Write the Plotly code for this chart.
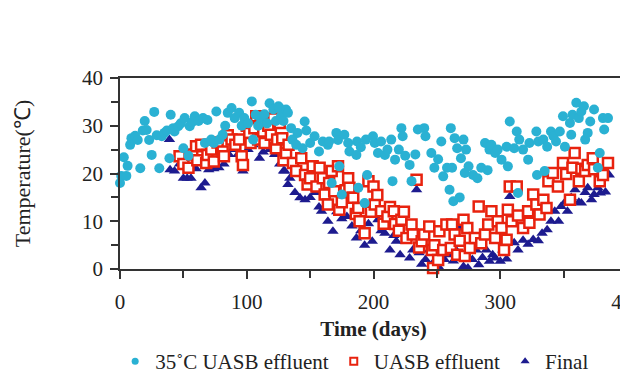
import plotly.graph_objects as go

# 35°C UASB effluent
cyan_day = [0,1,3,5,6,8,9,12,14,16,18,19.5,21,23,25,27,29,31,33,35,37,39,40,42,43,46,48,50,51,54,55,57,59,62,65.5,67,69,72,74,76,78.5,81,83,85,88,90.5,94,96,98,101,104,105,107,109,111,114,116,118,121,123,125,126,127,129,131,132.5,135,136,139,140,144,145.7,147,150,153.5,157,160,164,165,167,170.7,172,173,175,177,180,181,186.5,187,188,190,193,194,195,199.6,201,203.5,206,209,211,214,215,217,220,222,223,225,228.5,230,233,235,240,241,245.6,248,251,253.5,255,258,260,261,262,263,264,266,268,269,271,272,273,275,278.5,282,285,288,290,291.5,293,296,298,301,305,306,307.5,311,313,314,315,318,322,323,328.5,329,330,334,335,337,340,342,344,347,349.5,351,355,356,357,360,362,364,366,367,369,371,374,377,378.5,381,382,385]
cyan_temp = [18,19.5,23.4,19.5,21.6,26,27.4,27.9,27,21.1,29,31,29.1,27,23.9,32.9,28,21.1,27.8,28.5,29,23.2,32.3,29.5,28.8,29.9,30.5,25.3,31.6,23.7,29.9,30.8,32,31,31.6,26.4,31.2,27.1,26.4,33,27.1,28.1,30,32.7,33.7,31.6,32.7,30,31.6,30.5,35.1,27.1,32.3,30,31.6,32.4,30.5,34.7,33.4,31,34.1,33.7,32,31,33.4,32.7,29.5,27.1,26,28.5,25.3,30.9,29,26.4,27.8,24.6,26.7,26,26.7,18,28.5,27,21.5,15.6,28.1,26.4,24.6,23.9,26.7,17,25.5,13.8,27.1,19.7,27.8,26.4,24.3,26.7,23.9,25,27.1,18.4,22.9,25,29.5,27.8,23.7,21.8,18.4,24,29.2,29.5,27.8,24.3,21.2,23,26.7,19.4,21.2,16.6,29.5,21.2,14.2,27.4,25.3,15,23.2,27.1,20.1,25,21.5,19.7,19,21.2,26.4,20.7,25,26,24.3,25,22.9,25.6,21.5,30.9,25.3,28.8,15.9,27.1,25,22.9,26.4,28.8,19.7,26.7,27.1,20.5,25.6,28.8,27.8,26.7,28.8,32,25.6,30.6,28.1,32.3,34.8,31.6,33,34.1,27.1,28.5,30.9,33.4,21.2,24.3,31.6,29.2,31.6]

# UASB effluent
red_day = [47,50,54,57,60,61,64,68,69,72,74,77,81,82,85,88,91,94,96,97,100,102,103,106,107.5,109,111,113,114,117,119,121,123,124,126,128,129,131,133,136.5,139,143,146,148,150,152,155,157.5,160,161.5,164,165,167,169,172,173,175,178,180,181,184,186,188,189,193,196,198,200,201,203,206,208,211,213,216,217,220,222,224,226,230,231,234,236,238,240,244,246,247,248,251,252,255,257.5,261,262,264,266,268,271,272,274,276,280,283,285,288,290.5,293,296,298,301,303,305,306,307.5,309,313,314,318,322,323,326,328.5,331,334,336.5,338,341.5,345.5,349.5,352,355,357,358.7,362,364,367,369,373,374,378.5,381,385]
red_temp = [23.6,22,21.2,24,25.7,22.8,26,22.2,23.9,25,22.5,26.5,24.6,23.6,28,27.1,26,27.1,23.6,21.8,30,28.5,26.4,29.5,32,27.1,31,28.8,26.4,30,28.1,31.5,25.3,27.1,30.6,27.4,22.8,24.3,26,22.2,20.5,23.2,19.7,17.7,19,21.5,17.3,21.2,19,15.6,13.5,18,20.5,16.3,21.5,12.4,14,16.5,19,17,14.9,11.5,12.8,10,7.5,18.4,12,17.3,13.5,15.5,12.1,9.5,11,13,12.1,9.4,8,10.3,12,6.5,9.3,7.2,18.7,4.5,5.8,7.2,8.9,4,0.2,5,1.9,7.9,4,9.3,4.4,9.3,7.2,3,5.9,10.3,2.7,8.6,4.4,6.5,13.1,5.4,7.2,9.3,12.1,6.5,10,8.6,4,6.1,12.4,17.3,10,17.3,11.2,8.6,12.1,9.7,15.6,13.5,11.4,14.5,12.8,18.4,20.1,17.3,22.2,19.9,14.5,21.2,24.3,18.4,21,20.5,21.8,23.2,20.9,18.4,19.7,22.2]

# Final
navy_day = [39,39.5,43,47,50,53,56,60,64,67,70,74,78,82,86,89,93,97,101,105,110,113,118,122,126,129,130,132.5,134,138,142,146,150,154,157,159,162,164,168,171,175,179,183,186.5,190,193,196,199,203.5,206,209,213,216,218,221,225,228.5,231,234,236,238,241,244,248,252,256,260,263,265,268,268.5,271,274.5,278,281,283,286,289,291.5,294,296,300,302,305,307.5,311,314,318,322,326,330,333,337,340,343,346,348,351,353,356,359,362,364,367,369,372,374,377,379,383,386]
navy_temp = [27.1,20.8,20.5,22,19,19,19,21,17,18,20.8,21,21.2,22,24,25,24,20.5,25,26,23.2,24.5,25,24,22,20.5,20.5,17.7,19,16,14.9,14.5,15,16,13,12.1,13,10,7.9,12,10.5,11,9,6.5,8,5,9.5,5.8,10.3,8,7.5,4,7,5.8,3,5.8,2.3,4,16.6,3.4,1,2,4,1.6,0.2,2,3,1.7,4,2.4,8.6,0.5,0.2,2,4,0.9,2.4,4,1.6,3,2.3,1.6,4,2.1,15.2,5.5,4,6,5.2,6.2,5.9,7.5,8.2,10,12.1,10,13.1,14,12.1,15,16.6,14,13.8,16,17,14.5,15.6,17,15.9,16.1,19.7]

x_ticks = [0, 100, 200, 300, 400]
y_ticks = [0, 10, 20, 30, 40]

CYAN = "#2AB1D3"
RED = "#E8220E"
NAVY = "#1D1B8F"
FONT = "Liberation Serif"

fig = go.Figure()
fig.add_trace(go.Scatter(x=navy_day, y=navy_temp, mode="markers", showlegend=False, cliponaxis=False,
                         marker=dict(symbol="triangle-up", size=10, color=NAVY)))
fig.add_trace(go.Scatter(x=red_day, y=red_temp, mode="markers", showlegend=False, cliponaxis=False,
                         marker=dict(symbol="square", size=10, color="white", line=dict(color=RED, width=2.5))))
fig.add_trace(go.Scatter(x=cyan_day, y=cyan_temp, mode="markers", showlegend=False, cliponaxis=False,
                         marker=dict(symbol="circle", size=10, color=CYAN)))

# legend entries
fig.add_trace(go.Scatter(x=[None], y=[None], mode="markers", name="35˚C UASB effluent",
                         marker=dict(symbol="circle", size=7, color=CYAN)))
fig.add_trace(go.Scatter(x=[None], y=[None], mode="markers", name="UASB effluent",
                         marker=dict(symbol="square", size=7, color="white", line=dict(color=RED, width=2))))
fig.add_trace(go.Scatter(x=[None], y=[None], mode="markers", name="Final",
                         marker=dict(symbol="triangle-up", size=8, color=NAVY)))

axis_common = dict(showline=True, linecolor="#333", linewidth=1.5, mirror=True,
                   ticks="outside", ticklen=8, tickwidth=1.5, tickcolor="#333",
                   showgrid=False, zeroline=False, ticklabeloverflow="allow", automargin=False,
                   tickfont=dict(family=FONT, size=21, color="#222"))

fig.update_xaxes(range=[0, 400], tickvals=x_ticks, ticktext=[str(v) for v in x_ticks],
                 ticklabelstandoff=5,
                 minor=dict(tickvals=[50, 150, 250, 350], ticks="outside", ticklen=7, tickwidth=1.5, tickcolor="#333"),
                 title=dict(text="<b>Time (days)</b>", font=dict(family=FONT, size=21, color="#222"), standoff=11),
                 **axis_common)
fig.update_yaxes(range=[0, 40], tickvals=y_ticks, ticktext=[str(v) for v in y_ticks],
                 ticklabelstandoff=3,
                 minor=dict(tickvals=[5, 15, 25, 35], ticks="outside", ticklen=7, tickwidth=1.5, tickcolor="#333"),
                 title=dict(text="Temperature(℃)", font=dict(family=FONT, size=22, color="#222"), standoff=45),
                 **axis_common)

fig.update_layout(
    width=628, height=374,
    margin=dict(l=112, r=9, t=70, b=113, autoexpand=False),
    paper_bgcolor="white", plot_bgcolor="white",
    legend=dict(orientation="h", xref="container", yref="container",
                x=0.552, xanchor="center", y=0.0, yanchor="bottom",
                font=dict(family=FONT, size=21, color="#222"),
                bgcolor="rgba(0,0,0,0)"),
)

fig.write_html("out.html")
